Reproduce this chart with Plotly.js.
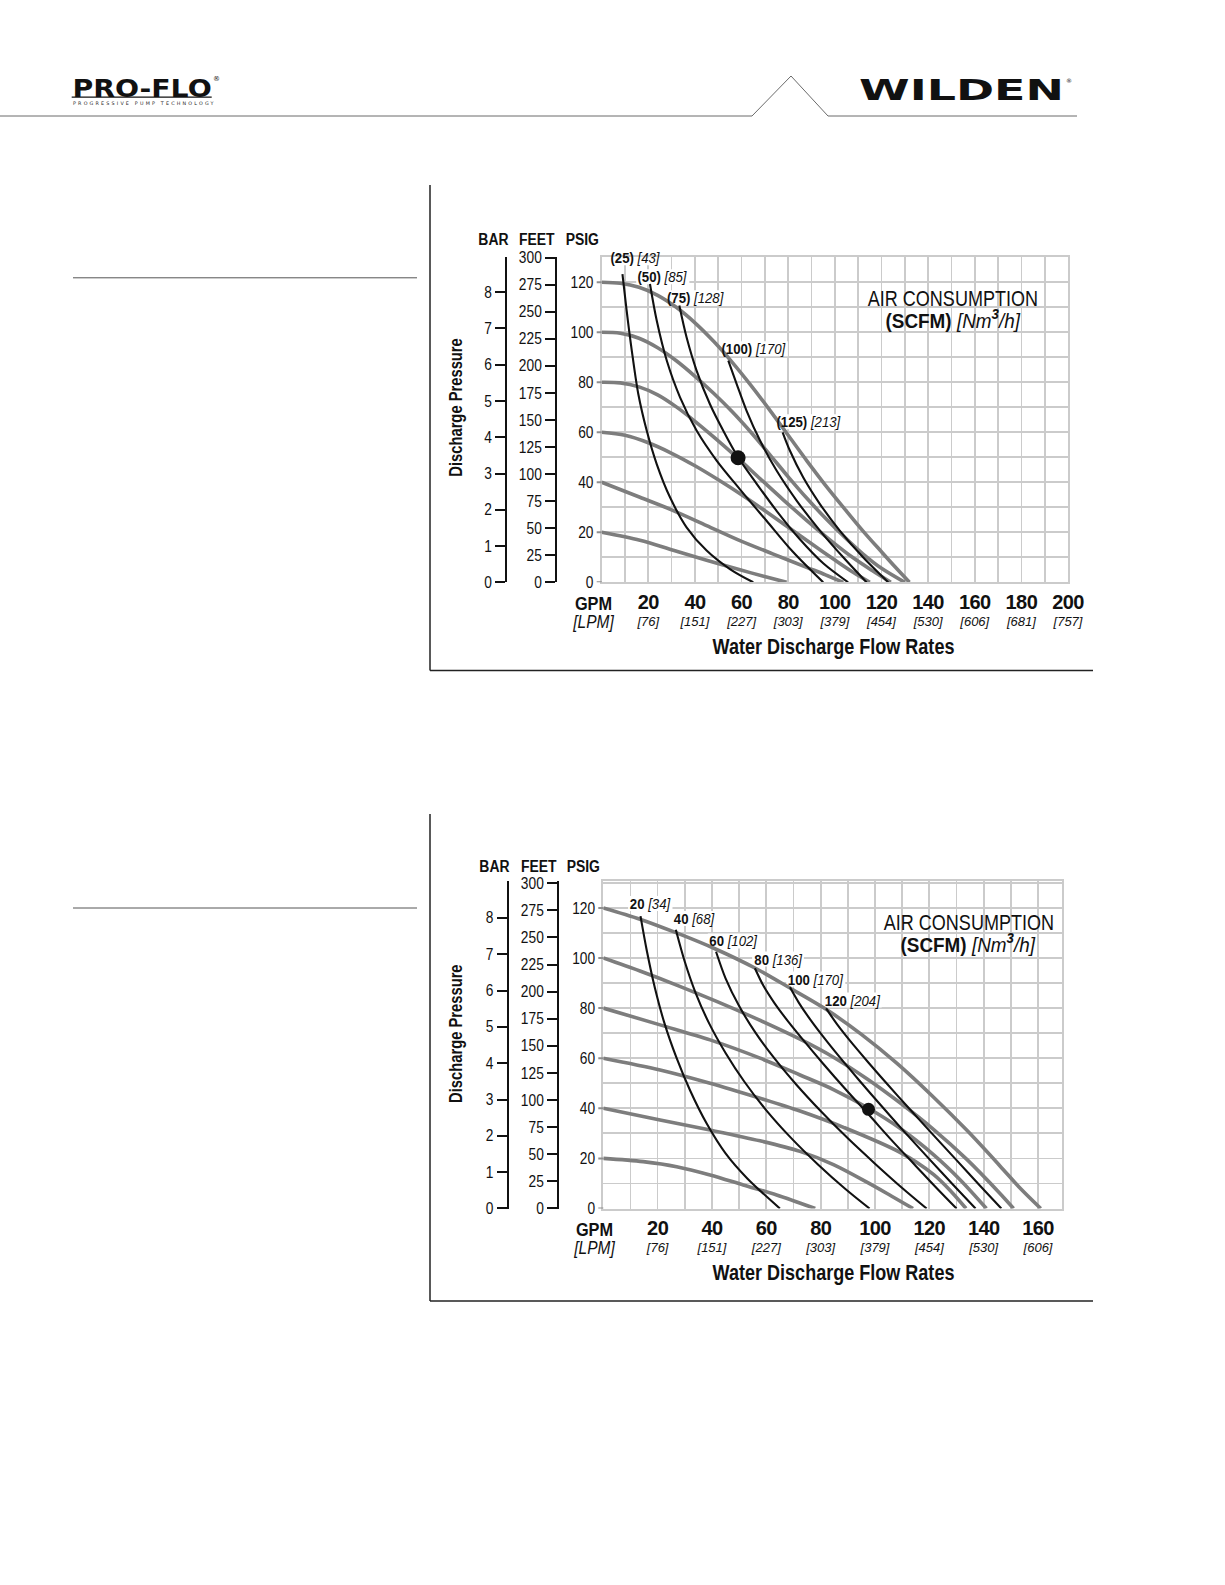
<!DOCTYPE html>
<html>
<head>
<meta charset="utf-8">
<script src="https://cdn.plot.ly/plotly-3.0.1.min.js"></script>
<style>
  html, body { margin: 0; padding: 0; background: #fff; }
  #page { width: 1225px; height: 1585px; }
</style>
</head>
<body>
<div id="page"></div>
<script>
// ---- chart 1 (upper) ----
var c1_gpm_ticks = [20, 40, 60, 80, 100, 120, 140, 160, 180, 200];
var c1_lpm_ticks = ['[76]', '[151]', '[227]', '[303]', '[379]', '[454]', '[530]', '[606]', '[681]', '[757]'];

// inlet air pressure curves (gray), psig
var c1_inlet_levels = [120, 100, 80, 60, 40, 20];
var c1_inlet_gpm = [
  [0, 8, 16, 24, 32, 40, 48, 56, 64, 72, 80, 88, 96, 104, 112, 120, 126, 132],
  [0, 8, 16, 24, 32, 40, 48, 56, 64, 72, 80, 88, 96, 104, 112, 120, 130],
  [0, 8, 16, 24, 32, 40, 48, 58.5, 68, 78, 88, 98, 108, 116, 124],
  [0, 10, 20, 30, 40, 50, 60, 70, 80, 90, 100, 108, 115],
  [0, 16.4, 30.7, 45, 59.3, 73.6, 87.9, 96, 103.6],
  [0, 16.4, 30.7, 45, 59.3, 70.7, 79.3]
];
var c1_inlet_psig = [
  [120, 119.6, 118, 114.8, 110, 103.8, 96.4, 88, 78.8, 69, 58.8, 48.6, 38.8, 29.6, 20.6, 12.2, 6, 0],
  [100, 99.6, 97.6, 93.8, 88.6, 82.4, 75.6, 68.2, 60, 51.2, 42.2, 33.6, 25.6, 18.2, 11.4, 5.6, 0],
  [80, 79.76, 78.16, 74.96, 70.16, 64.4, 58.16, 49.55, 41.4, 32.9, 24.7, 16.9, 9.7, 4.7, 0],
  [60, 58.8, 55.8, 51.6, 46.6, 41, 35, 28.6, 22, 15.4, 8.9, 3.9, 0],
  [40, 34, 28.7, 22.7, 16.7, 11.3, 6, 3, 0],
  [20, 16.8, 12.8, 8.8, 5, 2.1, 0]
];

// air consumption curves (black)
var c1_scfm = ['(25)', '(50)', '(75)', '(100)', '(125)'];
var c1_nm3h = ['[43]', '[85]', '[128]', '[170]', '[213]'];
var c1_air_gpm = [
  [8.9, 10.7, 12.9, 15.7, 19.3, 23.6, 29.3, 36.4, 45, 55, 65],
  [20.7, 23.6, 27.9, 33.6, 40.7, 49.3, 59.3, 70.7, 82, 95],
  [33.3, 36.4, 40.7, 46.4, 52.1, 58.5, 66.4, 75, 85, 95, 105.7],
  [54.3, 57.9, 62.1, 67.9, 75, 83.6, 93.6, 103.6, 113.6],
  [77.6, 80.7, 86.4, 93.6, 102.1, 112.1, 122.9]
];
var c1_air_psig = [
  [123.3, 108.7, 92.7, 75.3, 60.7, 47.3, 34, 22, 12.7, 5.3, 0],
  [119.3, 104.7, 88.7, 74, 60.7, 48.7, 37.2, 24.6, 12.2, 0],
  [110.7, 98, 84.7, 71.3, 60.7, 50, 39.5, 28.6, 17.2, 7.6, 0],
  [88.7, 79.3, 68.7, 56.7, 44.7, 32.7, 20.7, 10, 0],
  [60, 52.7, 42, 31.3, 20.7, 10, 0]
];
var c1_point = {gpm: 58.5, psig: 49.8};

// ---- chart 2 (lower) ----
var c2_gpm_ticks = [20, 40, 60, 80, 100, 120, 140, 160];
var c2_lpm_ticks = ['[76]', '[151]', '[227]', '[303]', '[379]', '[454]', '[530]', '[606]'];

var c2_inlet_levels = [120, 100, 80, 60, 40, 20];
var c2_inlet_gpm = [
  [0, 13.5, 27, 41.5, 55.8, 68.7, 82, 95, 108, 121, 134, 146, 153, 161],
  [0, 13.5, 27, 41.9, 56.7, 72.4, 84.7, 97, 109.2, 121.5, 133.8, 146, 151],
  [0, 20.9, 39.3, 57.7, 72.4, 84.7, 97.6, 109.2, 121.5, 131.3, 141],
  [0, 20.9, 39.3, 57.7, 72.4, 88.4, 109.2, 121.5, 128, 133.5],
  [0, 20.9, 39.3, 57.7, 72.4, 84.7, 97, 106, 114],
  [0, 14.7, 27, 39.3, 51.5, 63.8, 78]
];
var c2_inlet_psig = [
  [120, 115.5, 110, 103.5, 96, 88, 79.5, 69.5, 58, 45, 31, 17, 8.6, 0],
  [100, 94.8, 89.2, 82.6, 75.6, 67.6, 60.4, 51.8, 42.2, 31.6, 19.6, 6, 0],
  [80, 73.3, 67.3, 60, 53.3, 47.5, 40, 32, 21.5, 11.5, 0],
  [60, 55.3, 50, 44, 38.9, 32.4, 22.4, 13.6, 6.8, 0],
  [40, 35.3, 31.3, 27, 22.8, 17.5, 10.5, 5, 0],
  [20, 18.7, 16.7, 13.4, 9.4, 5.4, 0]
];

var c2_scfm = ['20', '40', '60', '80', '100', '120'];
var c2_nm3h = ['[34]', '[68]', '[102]', '[136]', '[170]', '[204]'];
var c2_air_gpm = [
  [13.7, 16, 19, 22.5, 27, 32, 38, 45, 53, 65],
  [26.7, 30, 34, 39, 45, 52, 60, 69, 79, 89, 98],
  [41.5, 45, 50, 56, 63, 71, 80, 90, 100, 110, 119],
  [55.8, 59, 63, 68, 74, 81, 89, 97.6, 106, 115, 123, 130],
  [68.7, 72, 76, 81, 87, 94, 102, 111, 120, 129, 137],
  [82, 86, 91, 97, 104, 112, 121, 130, 139, 146.5]
];
var c2_air_psig = [
  [116.7, 103, 88, 74, 60, 47, 34, 22, 12, 0],
  [111.3, 98.5, 86, 73.8, 62.1, 50.5, 39.2, 28.3, 17.6, 7.9, 0],
  [102.5, 91.9, 80.8, 70.2, 59.9, 49.5, 38.9, 28, 17.9, 8.2, 0],
  [95.9, 88.8, 82, 74.7, 66.7, 57.7, 47.8, 37.6, 27.4, 17, 7.8, 0],
  [88.3, 82.1, 75.7, 68.5, 60.4, 51.4, 41.4, 30.4, 19.7, 9.2, 0],
  [79.9, 73.6, 66.7, 59, 50.3, 40.6, 29.9, 19.3, 8.7, 0]
];
var c2_point = {gpm: 97.6, psig: 39.6};

// ---- page geometry helpers (pixels -> paper) ----
var W = 1225, H = 1585;
function px(x) { return x / W; }
function py(y) { return 1 - y / H; }

var SANS = '"Liberation Sans", Arial, sans-serif';
var LOGO = '"DejaVu Sans", sans-serif';
var INK = '#111111';
var GRID = '#cbcbcb';
var PSI_FT = 2.31, PSI_BAR = 14.5038;
var LABEL_SIZE = 15, LABEL_SQUEEZE = 0.88;

// rough Arial-like advance widths, used to size the white patches behind labels
function textWidth(s, size) {
  var w = 0;
  for (var i = 0; i < s.length; i++) {
    var c = s[i];
    w += /[0-9]/.test(c) ? 0.556 : (c === '(' || c === ')') ? 0.333 : (c === '[' || c === ']' || c === ' ') ? 0.278 : 0.6;
  }
  return w * size;
}
function norm(s) { return s.replace(/[\s\u00a0\u200b]/g, ''); }

// horizontal squeeze factors that imitate the condensed / extended faces of the original
var squeeze = {};
function setSqueeze(s, f) { squeeze[norm(s)] = f; }
setSqueeze('BAR', 0.82); setSqueeze('FEET', 0.82); setSqueeze('PSIG', 0.82);
setSqueeze('Discharge Pressure', 0.82); setSqueeze('Water Discharge Flow Rates', 0.82);
setSqueeze('GPM[LPM]', 0.86);
setSqueeze('AIR CONSUMPTION', 0.82); setSqueeze('(SCFM) [Nm3/h]', 0.9);
setSqueeze('PRO-FLO', 1.18); setSqueeze('WILDEN', 1.64);

var traces = [];
var annotations = [];
var shapes = [];

function addChart(n, opt) {
  var xa = n === 1 ? 'x' : 'x2', ya = n === 1 ? 'y' : 'y2';
  opt.inletGpm.forEach(function (g, i) {
    traces.push({x: g, y: opt.inletPsig[i], xaxis: xa, yaxis: ya, type: 'scatter', mode: 'lines',
      line: {color: '#7d7d7d', width: 3.6, shape: 'spline', smoothing: 0.9}, hoverinfo: 'skip',
      name: opt.inletLevels[i] + ' psig'});
  });
  opt.airGpm.forEach(function (g, i) {
    traces.push({x: g, y: opt.airPsig[i], xaxis: xa, yaxis: ya, type: 'scatter', mode: 'lines',
      line: {color: INK, width: 2.1, shape: 'spline', smoothing: 0.9}, hoverinfo: 'skip',
      name: opt.scfm[i] + ' scfm'});
    var lp = opt.labelPos[i];
    var label = opt.scfm[i] + ' ' + opt.nm3h[i];
    setSqueeze(label, LABEL_SQUEEZE);
    var hw = textWidth(label, LABEL_SIZE) * LABEL_SQUEEZE / 2 + 2;
    shapes.push({type: 'rect', layer: 'between', xref: xa, yref: ya,
      xsizemode: 'pixel', xanchor: lp[0], x0: -hw, x1: hw,
      ysizemode: 'pixel', yanchor: lp[1], y0: -7.5, y1: 7.5,
      fillcolor: '#ffffff', line: {width: 0}});
    annotations.push({xref: xa, yref: ya, x: lp[0], y: lp[1], showarrow: false,
      text: '<b>' + opt.scfm[i] + '</b> <i>' + opt.nm3h[i] + '</i>',
      font: {family: SANS, size: LABEL_SIZE, color: INK}});
  });
  traces.push({x: [opt.point.gpm], y: [opt.point.psig], xaxis: xa, yaxis: ya, type: 'scatter',
    mode: 'markers', marker: {color: INK, size: opt.dotSize}, hoverinfo: 'skip'});
  // carriers for the feet / bar axes
  traces.push({x: [null], y: [null], xaxis: xa, yaxis: opt.feetAxis, type: 'scatter', mode: 'markers', hoverinfo: 'skip'});
  traces.push({x: [null], y: [null], xaxis: xa, yaxis: opt.barAxis, type: 'scatter', mode: 'markers', hoverinfo: 'skip'});
  // short gray ticks beside the psig labels
  for (var v = 0; v <= 120; v += 20) {
    shapes.push({type: 'line', xref: 'paper', yref: ya, x0: px(opt.gridLeft - 5), x1: px(opt.gridLeft), y0: v, y1: v,
      line: {color: '#8f8f8f', width: 2}});
  }
}

addChart(1, {
  inletLevels: c1_inlet_levels, inletGpm: c1_inlet_gpm, inletPsig: c1_inlet_psig,
  airGpm: c1_air_gpm, airPsig: c1_air_psig, scfm: c1_scfm, nm3h: c1_nm3h, point: c1_point,
  labelPos: [[14.4, 129.8], [26.2, 122.2], [40.2, 113.8], [65.3, 93.4], [88.6, 64.2]],
  dotSize: 15, feetAxis: 'y3', barAxis: 'y4', gridLeft: 601.7
});
addChart(2, {
  inletLevels: c2_inlet_levels, inletGpm: c2_inlet_gpm, inletPsig: c2_inlet_psig,
  airGpm: c2_air_gpm, airPsig: c2_air_psig, scfm: c2_scfm, nm3h: c2_nm3h, point: c2_point,
  labelPos: [[17.3, 121.8], [33.4, 115.8], [48, 106.8], [64.3, 99.6], [78.2, 91.6], [91.6, 83.2]],
  dotSize: 13, feetAxis: 'y5', barAxis: 'y6', gridLeft: 603.3
});

function xTickText(gpm, lpm) {
  return gpm.map(function (v, k) {
    return '<span style="font-size:20px;letter-spacing:-0.6px"><b>' + v + '</b></span><br><i>' + lpm[k] + '</i>';
  });
}

function xAxis(dom, range, anchor, gpm, lpm) {
  return {domain: dom, range: range, anchor: anchor, tickmode: 'array', tickvals: gpm, ticktext: xTickText(gpm, lpm),
    ticks: '', showgrid: true, gridcolor: GRID, gridwidth: 1.7, zeroline: false,
    minor: {tickmode: 'linear', tick0: 0, dtick: 10, showgrid: true, gridcolor: GRID, gridwidth: 1.7, ticks: ''},
    showline: true, mirror: true, linecolor: GRID, linewidth: 2,
    tickfont: {family: SANS, size: 13, color: INK}, ticklabelstandoff: 9, fixedrange: true};
}
function psiAxis(dom, range, anchor) {
  return {domain: dom, range: range, anchor: anchor, tick0: 0, dtick: 20, ticks: '',
    minor: {tickmode: 'linear', tick0: 0, dtick: 10, showgrid: true, gridcolor: GRID, gridwidth: 1.7, ticks: ''},
    showgrid: true, gridcolor: GRID, gridwidth: 1.7, zeroline: false,
    showline: true, mirror: true, linecolor: GRID, linewidth: 2,
    tickfont: {family: SANS, size: 16, color: INK}, ticklabelstandoff: 3, fixedrange: true};
}
function scaleAxis(over, pos, range, vals) {
  return {overlaying: over, anchor: 'free', position: pos, side: 'left', range: range,
    tickmode: 'array', tickvals: vals, ticks: 'outside', ticklen: 10, tickwidth: 2, tickcolor: INK,
    showline: true, linecolor: INK, linewidth: 2, showgrid: false, zeroline: false,
    tickfont: {family: SANS, size: 16, color: INK}, fixedrange: true};
}
var feetVals = [0, 25, 50, 75, 100, 125, 150, 175, 200, 225, 250, 275, 300];
var barVals = [0, 1, 2, 3, 4, 5, 6, 7, 8];

var c1_top = 130, c2_top = 130.7, c2_right = 169;

var layout = {
  width: W, height: H, margin: {l: 0, r: 0, t: 0, b: 0},
  paper_bgcolor: '#fff', plot_bgcolor: '#fff', showlegend: false, hovermode: false,
  xaxis: xAxis([px(601.7), px(1068)], [0, 200], 'y', c1_gpm_ticks, c1_lpm_ticks),
  yaxis: psiAxis([py(582.3), py(257.3)], [0, c1_top], 'x'),
  yaxis3: scaleAxis('y', px(556), [0, c1_top * PSI_FT], feetVals),
  yaxis4: scaleAxis('y', px(506), [0, c1_top / PSI_BAR], barVals),
  xaxis2: xAxis([px(603.3), px(603.3 + c2_right * 2.717)], [0, c2_right], 'y2', c2_gpm_ticks, c2_lpm_ticks),
  yaxis2: psiAxis([py(1208.5), py(1208.5 - c2_top * 2.505)], [0, c2_top], 'x2'),
  yaxis5: scaleAxis('y2', px(558), [0, c2_top * PSI_FT], feetVals),
  yaxis6: scaleAxis('y2', px(507.5), [0, c2_top / PSI_BAR], barVals),
  annotations: annotations,
  shapes: shapes
};

function note(x, y, text, size, extra) {
  var a = {xref: 'paper', yref: 'paper', x: px(x), y: py(y), text: text, showarrow: false,
    font: {family: SANS, size: size, color: INK}, xanchor: 'center', yanchor: 'middle'};
  for (var k in extra) a[k] = extra[k];
  annotations.push(a);
}
function seg(x0, y0, x1, y1, color, width) {
  shapes.push({type: 'line', xref: 'paper', yref: 'paper', x0: px(x0), y0: py(y0), x1: px(x1), y1: py(y1),
    line: {color: color, width: width}});
}
function whiteBox(x0, y0, x1, y1) {
  shapes.push({type: 'rect', xref: 'paper', yref: 'paper', x0: px(x0), y0: py(y0), x1: px(x1), y1: py(y1),
    fillcolor: '#ffffff', line: {width: 0}, layer: 'between'});
}

// axis texts for both charts (chart 2 sits 626 px lower)
[0, 626.2].forEach(function (dy, i) {
  var dx = i * 1.5;
  note(493 + dx, 240 + dy, '<b>BAR</b>', 17);
  note(537 + dx, 240 + dy, '<b>FEET</b>', 17);
  note(582 + dx, 240 + dy, '<b>PSIG</b>', 17);
  note(456, 408 + dy, '<b>Discharge Pressure</b>', 18, {textangle: -90});
  note(593 + dx, 612 + dy, '<span style="font-size:19px"><b>GPM</b></span><br><span style="font-size:18px"><i>[LPM]</i></span>', 14);
  note(834, 646.4 + dy, '<b>Water Discharge Flow Rates</b>', 22);
  var cx = i === 0 ? 953 : 968.5;
  var y0 = i === 0 ? 298.5 : 922.3;
  whiteBox(cx - 90, y0 - 12, cx + 90, y0 + 32);
  note(cx, y0, 'AIR CONSUMPTION', 22);
  note(cx, y0 + 20.5, '<b>(SCFM)</b> <i>[Nm<sup><b>3</b></sup>/h]</i>', 21);
  // page frame around the chart
  var top = i === 0 ? 185 : 814, bot = i === 0 ? 670.5 : 1301;
  seg(430, top, 430, bot, '#222', 1.5);
  seg(430, bot, 1093, bot, '#222', 1.5);
  seg(73, (i === 0 ? 277.8 : 908), 417, (i === 0 ? 277.8 : 908), '#555', 1);
});

// header
shapes.push({type: 'path', xref: 'paper', yref: 'paper',
  path: 'M ' + px(0) + ',' + py(116) + ' L ' + px(752) + ',' + py(116) + ' L ' + px(791) + ',' + py(76) +
        ' L ' + px(828) + ',' + py(116) + ' L ' + px(1077) + ',' + py(116),
  line: {color: '#6a6a6a', width: 1}});
note(141.7, 88.5, '<b>PRO-FLO</b>', 24, {font: {family: LOGO, size: 24, color: '#111'}});
note(216, 79, '®', 7, {font: {family: LOGO, size: 7, color: '#111'}});
seg(71.7, 97.2, 211.7, 97.2, '#111', 1.2);
note(144, 104, '<span style="letter-spacing:2.2px">PROGRESSIVE PUMP TECHNOLOGY</span>', 4.8,
  {font: {family: LOGO, size: 4.8, color: '#222'}});
note(961, 90.5, '<b>WILDEN</b>', 28, {font: {family: LOGO, size: 28, color: '#111'}});
note(1069, 80, '®', 6, {font: {family: LOGO, size: 6, color: '#111'}});

function squeezeText(n, sx, anchor) {
  var b = n.getBBox();
  var ax = anchor === 'end' ? b.x + b.width : b.x + b.width / 2;
  var prev = n.getAttribute('transform') || '';
  n.setAttribute('transform', prev + ' translate(' + ax + ',0) scale(' + sx + ',1) translate(' + (-ax) + ',0)');
}

Plotly.newPlot('page', traces, layout, {displaylogo: false, displayModeBar: false, staticPlot: true})
  .then(function (gd) {
    var nodes = gd.querySelectorAll('.annotation-text');
    for (var i = 0; i < nodes.length; i++) {
      var sx = squeeze[norm(nodes[i].textContent)];
      if (sx) squeezeText(nodes[i], sx, 'middle');
    }
    // narrower digits on the pressure scales
    var ticks = gd.querySelectorAll('.ytick text, .y2tick text, .y3tick text, .y4tick text, .y5tick text, .y6tick text');
    for (var j = 0; j < ticks.length; j++) squeezeText(ticks[j], 0.86, 'end');
  });
</script>
</body>
</html>
